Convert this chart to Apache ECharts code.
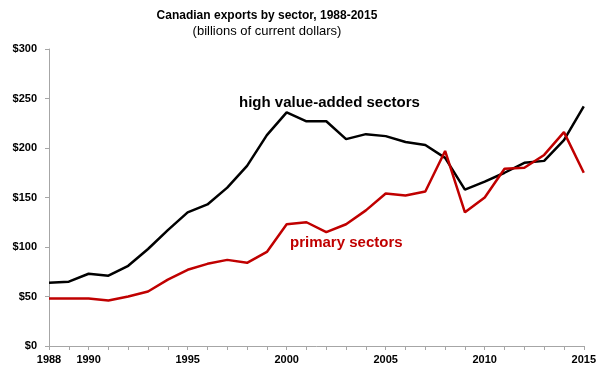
<!DOCTYPE html>
<html>
<head>
<meta charset="utf-8">
<script src="https://cdn.jsdelivr.net/npm/echarts@6/dist/echarts.min.js"></script>
<style>
  html, body { margin: 0; padding: 0; background: #fff; }
  #main { width: 599px; height: 368px; }
</style>
</head>
<body>
<div id="main"></div>
<script>
// years on the x axis
const years = []
for (let y = 1988; y <= 2015; y++) years.push(String(y))
// only these years get a label
const yearLabels = ['1988', '1990', '1995', '2000', '2005', '2010', '2015']

// billions of current dollars
const highValueAdded = [64, 65, 73, 71, 81, 98, 117, 135, 143, 160, 182, 213, 236, 227, 227, 209, 214, 212, 206, 203, 190, 158, 166, 175, 185, 187, 208, 242]
const primarySectors = [48, 48, 48, 46, 50, 55, 67, 77, 83, 87, 84, 95, 123, 125, 115, 123, 137, 154, 152, 156, 197, 135, 150, 179, 180, 193, 216, 175]

const FONT = 'Liberation Sans'
const chart = echarts.init(document.getElementById('main'), null, { renderer: 'canvas' })

chart.setOption({
  animation: false,
  backgroundColor: '#fff',
  textStyle: { fontFamily: FONT },
  title: {
    text: 'Canadian exports by sector, 1988-2015',
    subtext: '(billions of current dollars)',
    left: 262,
    textAlign: 'center',
    top: 5,
    itemGap: 3,
    textStyle: { fontSize: 12, fontWeight: 'bold', color: '#000', fontFamily: FONT },
    subtextStyle: { fontSize: 13, color: '#000', fontFamily: FONT }
  },
  grid: { left: 49, right: 14, top: 49, bottom: 22, containLabel: false },
  xAxis: {
    type: 'category',
    data: years,
    boundaryGap: false,
    axisLine: { lineStyle: { color: '#a6a6a6', width: 1 } },
    axisTick: { show: true, interval: 0, length: 4, lineStyle: { color: '#a6a6a6' } },
    axisLabel: {
      interval: (idx, val) => yearLabels.includes(val),
      color: '#000',
      fontWeight: 'bold',
      fontSize: 11,
      margin: 8,
      fontFamily: FONT
    },
    splitLine: { show: false }
  },
  yAxis: {
    type: 'value',
    min: 0,
    max: 300,
    interval: 50,
    axisLine: { show: true, lineStyle: { color: '#a6a6a6', width: 1 } },
    axisTick: { show: true, length: 4, lineStyle: { color: '#a6a6a6' } },
    axisLabel: {
      formatter: v => '$' + v,
      color: '#000',
      fontWeight: 'bold',
      fontSize: 11,
      margin: 12,
      fontFamily: FONT
    },
    splitLine: { show: false }
  },
  series: [
    {
      name: 'high value-added sectors',
      type: 'line',
      data: highValueAdded,
      symbol: 'none',
      lineStyle: { color: '#000', width: 2.5 },
      z: 2
    },
    {
      name: 'primary sectors',
      type: 'line',
      data: primarySectors,
      symbol: 'none',
      lineStyle: { color: '#c00000', width: 2.5 },
      z: 3
    }
  ],
  graphic: [
    {
      type: 'text',
      left: 239,
      top: 95,
      style: { text: 'high value-added sectors', fill: '#000', font: 'bold 15px ' + FONT }
    },
    {
      type: 'text',
      left: 290,
      top: 235,
      style: { text: 'primary sectors', fill: '#c00000', font: 'bold 15px ' + FONT }
    }
  ]
})
</script>
</body>
</html>
